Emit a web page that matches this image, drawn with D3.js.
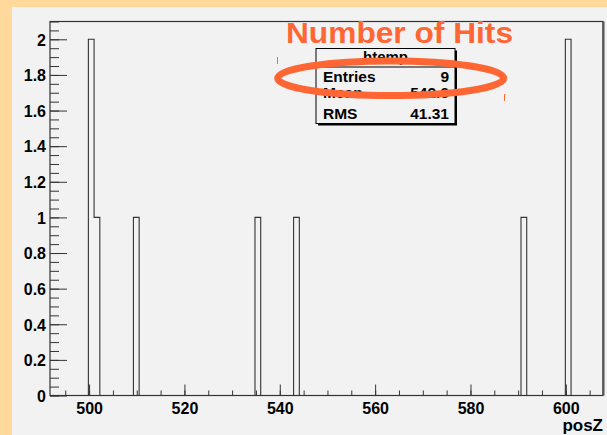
<!DOCTYPE html>
<html>
<head>
<meta charset="utf-8">
<script src="https://cdn.jsdelivr.net/npm/d3@7"></script>
<style>
  html, body { margin: 0; padding: 0; background: #f2f2f2; }
  svg { display: block; }
  text { font-family: "Liberation Sans", Arial, Helvetica, sans-serif; }
</style>
</head>
<body>
<svg id="chart" width="607" height="435"></svg>
<script>
// ---- data ----
const binLow = [499.85, 501.05, 509.3, 534.8, 542.9, 590.6, 599.9];
const counts = [2, 1, 1, 1, 1, 1, 2];
const binWidth = 1.2;
const xDomain = [491.8, 607.8];
const yDomain = [0, 2.1];
const xMajorTicks = [500, 520, 540, 560, 580, 600];
const yMajorTicks = [0, 0.2, 0.4, 0.6, 0.8, 1, 1.2, 1.4, 1.6, 1.8, 2];
const yTickLabels = ["0", "0.2", "0.4", "0.6", "0.8", "1", "1.2", "1.4", "1.6", "1.8", "2"];
const statNames = ["Entries", "Mean", "RMS"];
const statValues = ["9", "542.6", "41.31"];
const title = "Number of Hits";
const statsTitle = "htemp";
const xTitle = "posZ";

// ---- layout ----
const W = 607, H = 435;
const frame = { left: 50, right: 603, top: 21.5, bottom: 395.5 };
const svg = d3.select("#chart");

// background
svg.append("rect").attr("x", 0).attr("y", 0).attr("width", W).attr("height", H).attr("fill", "#ffd99b");
svg.append("rect").attr("x", 12).attr("y", 7).attr("width", W - 12).attr("height", H - 7).attr("fill", "#f2f2f2");

const x = d3.scaleLinear().domain(xDomain).range([frame.left, frame.right]);
const y = d3.scaleLinear().domain(yDomain).range([frame.bottom, frame.top]);

// frame
svg.append("rect")
  .attr("x", frame.left).attr("y", frame.top)
  .attr("width", frame.right - frame.left).attr("height", frame.bottom - frame.top)
  .attr("fill", "none").attr("stroke", "#333").attr("stroke-width", 1.2);
svg.append("line")
  .attr("x1", frame.right + 0.5).attr("x2", frame.right + 0.5)
  .attr("y1", frame.top).attr("y2", frame.bottom)
  .attr("stroke", "#555").attr("stroke-width", 2);

// histogram outline
const pts = [];
binLow.forEach((lo, i) => {
  const hi = lo + binWidth;
  const prevHi = i > 0 ? binLow[i - 1] + binWidth : null;
  const contiguous = prevHi !== null && Math.abs(prevHi - lo) < 1e-6;
  if (!contiguous) {
    if (pts.length) pts.push(null);
    pts.push([lo, 0]);
  }
  pts.push([lo, counts[i]]);
  pts.push([hi, counts[i]]);
  const nextLo = i < binLow.length - 1 ? binLow[i + 1] : null;
  if (nextLo === null || Math.abs(nextLo - hi) > 1e-6) pts.push([hi, 0]);
});
const line = d3.line()
  .defined(d => d !== null)
  .x(d => x(d[0])).y(d => y(d[1]));
svg.append("path")
  .attr("d", line(pts))
  .attr("fill", "none").attr("stroke", "#333").attr("stroke-width", 1.1);

// y axis: minor ticks
const yMinor = d3.range(0, 2.1001, 0.05).map(v => +v.toFixed(2));
svg.append("g")
  .attr("transform", `translate(${frame.left},0)`)
  .call(d3.axisLeft(y).tickValues(yMinor).tickSize(-9).tickFormat(""))
  .call(g => g.select(".domain").remove())
  .call(g => g.selectAll("line").attr("stroke", "#333"));
// y axis: major ticks
svg.append("g")
  .attr("transform", `translate(${frame.left},0)`)
  .call(d3.axisLeft(y).tickValues(yMajorTicks).tickSize(-17).tickPadding(4)
    .tickFormat((d, i) => yTickLabels[i]))
  .call(g => g.select(".domain").remove())
  .call(g => g.selectAll("line").attr("stroke", "#333"))
  .call(g => g.selectAll("text")
    .attr("font-family", "Liberation Sans, Arial, sans-serif")
    .attr("font-weight", "bold").attr("font-size", 16).attr("fill", "#000")
    .attr("dy", "0.36em"));

// x axis: minor ticks
const xMinor = d3.range(495, 606, 5);
svg.append("g")
  .attr("transform", `translate(0,${frame.bottom})`)
  .call(d3.axisBottom(x).tickValues(xMinor).tickSize(-5).tickFormat(""))
  .call(g => g.select(".domain").remove())
  .call(g => g.selectAll("line").attr("stroke", "#333"));
// x axis: major ticks
svg.append("g")
  .attr("transform", `translate(0,${frame.bottom})`)
  .call(d3.axisBottom(x).tickValues(xMajorTicks).tickSize(-11).tickFormat(d3.format("d")))
  .call(g => g.select(".domain").remove())
  .call(g => g.selectAll("line").attr("stroke", "#333"))
  .call(g => g.selectAll("text")
    .attr("font-family", "Liberation Sans, Arial, sans-serif")
    .attr("font-weight", "bold").attr("font-size", 16).attr("fill", "#000")
    .attr("y", 18.5).attr("dy", 0));

// x title
svg.append("text")
  .attr("x", 603).attr("y", 431)
  .attr("text-anchor", "end")
  .attr("font-weight", "bold").attr("font-size", 17).attr("fill", "#000")
  .text(xTitle);

// stats box
const box = { x: 316, y: 48.5, w: 139, h: 75 };
svg.append("rect")
  .attr("x", box.x + 2).attr("y", box.y + 2).attr("width", box.w).attr("height", box.h)
  .attr("fill", "#000");
svg.append("rect")
  .attr("x", box.x).attr("y", box.y).attr("width", box.w).attr("height", box.h)
  .attr("fill", "#f2f2f2").attr("stroke", "#000").attr("stroke-width", 1);
svg.append("text")
  .attr("x", box.x + box.w / 2).attr("y", 62)
  .attr("text-anchor", "middle")
  .attr("font-weight", "bold").attr("font-size", 15).attr("fill", "#000")
  .text(statsTitle);
svg.append("line")
  .attr("x1", box.x).attr("x2", box.x + box.w)
  .attr("y1", 67).attr("y2", 67)
  .attr("stroke", "#000").attr("stroke-width", 1);
const rowBase = [82.3, 97.5, 119];
statNames.forEach((n, i) => {
  svg.append("text")
    .attr("x", 323).attr("y", rowBase[i])
    .attr("font-weight", "bold").attr("font-size", 15.5).attr("fill", "#000")
    .text(n);
  svg.append("text")
    .attr("x", 449).attr("y", rowBase[i])
    .attr("text-anchor", "end")
    .attr("font-weight", "bold").attr("font-size", 15.5).attr("fill", "#000")
    .text(statValues[i]);
});

// annotation ellipse
const orange = "#ff6633";
svg.append("ellipse")
  .attr("cx", 390.7).attr("cy", 78.2).attr("rx", 113).attr("ry", 17.3)
  .attr("fill", "none").attr("stroke", orange).attr("stroke-width", 7);
svg.append("line").attr("x1", 277.5).attr("x2", 277.5).attr("y1", 57).attr("y2", 64)
  .attr("stroke", orange).attr("stroke-width", 1);
svg.append("line").attr("x1", 504.5).attr("x2", 504.5).attr("y1", 94).attr("y2", 101)
  .attr("stroke", orange).attr("stroke-width", 1);

// title
svg.append("text")
  .attr("x", 286).attr("y", 43.3)
  .attr("font-weight", "bold").attr("font-size", 29).attr("fill", orange)
  .attr("textLength", 227).attr("lengthAdjust", "spacingAndGlyphs")
  .text(title);
</script>
</body>
</html>
